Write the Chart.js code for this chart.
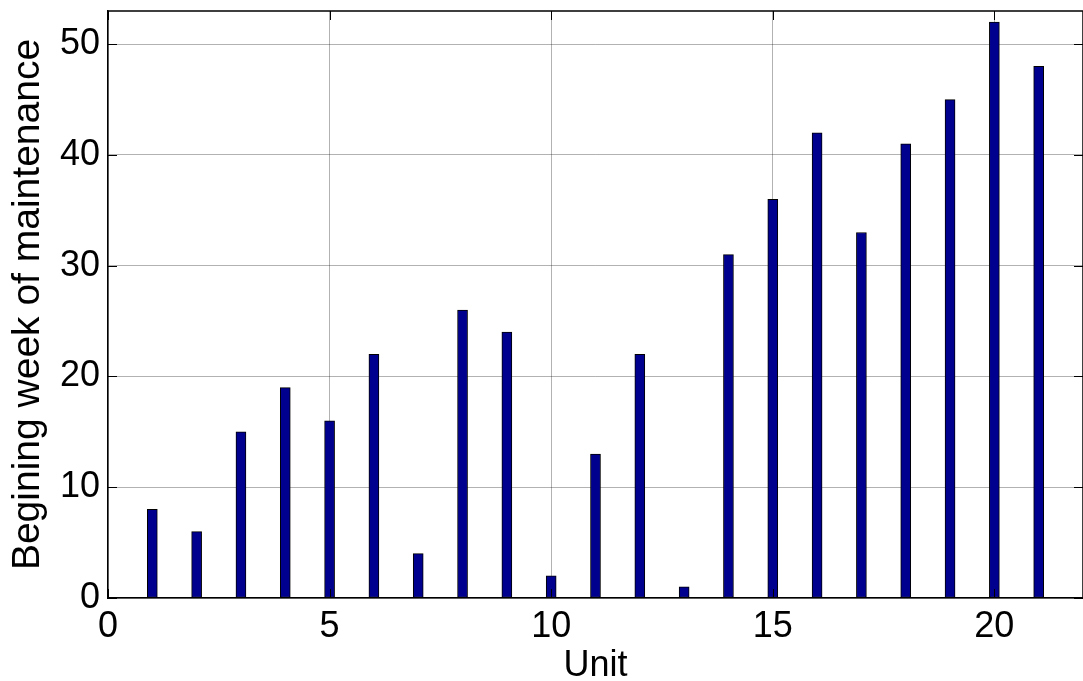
<!DOCTYPE html>
<html>
<head>
<meta charset="utf-8">
<script src="https://cdn.jsdelivr.net/npm/chart.js@4/dist/chart.umd.min.js"></script>
<style>
  html, body { margin: 0; padding: 0; background: #fff; }
  #wrap { width: 1083px; height: 681px; }
</style>
</head>
<body>
<div id="wrap"><canvas id="maintChart" width="1083" height="681"></canvas></div>
<script>
const units = [1, 2, 3, 4, 5, 6, 7, 8, 9, 10, 11, 12, 13, 14, 15, 16, 17, 18, 19, 20, 21];
const startWeek = [8, 6, 15, 19, 16, 22, 4, 26, 24, 2, 13, 22, 1, 31, 36, 42, 33, 41, 45, 52, 48];
const xTicks = [0, 5, 10, 15, 20];
const yTicks = [0, 10, 20, 30, 40, 50];

const FONT = "'Liberation Sans', Arial, sans-serif";

// box around the axes plus inward tick marks, like matlab
const frame = {
  id: "frame",
  afterDraw(chart) {
    const { ctx, chartArea: a, scales } = chart;
    const len = 9;
    ctx.save();
    ctx.strokeStyle = "#000";
    ctx.lineWidth = 1.5;
    ctx.beginPath();
    ctx.moveTo(a.left, a.top);
    ctx.lineTo(a.right, a.top);
    ctx.lineTo(a.right, a.bottom);
    ctx.stroke();
    ctx.lineWidth = 1;
    ctx.beginPath();
    xTicks.forEach((v) => {
      const px = Math.round(scales.x.getPixelForValue(v)) + 0.5;
      ctx.moveTo(px, a.bottom);
      ctx.lineTo(px, a.bottom - len);
      ctx.moveTo(px, a.top);
      ctx.lineTo(px, a.top + len);
    });
    yTicks.forEach((v) => {
      const py = Math.round(scales.y.getPixelForValue(v)) + 0.5;
      ctx.moveTo(a.left, py);
      ctx.lineTo(a.left + len, py);
      ctx.moveTo(a.right, py);
      ctx.lineTo(a.right - len, py);
    });
    ctx.stroke();
    ctx.restore();
  },
};

const ctx = document.getElementById("maintChart").getContext("2d");

new Chart(ctx, {
  type: "bar",
  data: {
    datasets: [
      {
        data: units.map((u, i) => ({ x: u, y: startWeek[i] })),
        backgroundColor: "rgb(0, 0, 143)",
        borderColor: "#000",
        borderWidth: 1,
        borderSkipped: false,
        barThickness: 10,
      },
    ],
  },
  options: {
    responsive: false,
    animation: false,
    layout: { padding: { top: 11, right: 0, bottom: 0, left: 0 } },
    plugins: { legend: { display: false }, tooltip: { enabled: false } },
    scales: {
      x: {
        type: "linear",
        min: 0,
        max: 22,
        offset: false,
        afterFit: (s) => {
          s.height = 83;
          s.paddingLeft = 0;
          s.paddingRight = 0;
        },
        afterBuildTicks: (s) => { s.ticks = xTicks.map((v) => ({ value: v })); },
        grid: { offset: false, color: "rgba(0,0,0,0.3)", lineWidth: 1, drawTicks: false },
        border: { color: "#000", width: 1.5 },
        ticks: {
          autoSkip: false,
          maxRotation: 0,
          padding: 7,
          color: "#000",
          font: { family: FONT, size: 36 },
        },
        title: {
          display: true,
          text: "Unit",
          color: "#000",
          padding: { top: 0, bottom: 0 },
          font: { family: FONT, size: 36, lineHeight: 0.85 },
        },
      },
      y: {
        min: 0,
        max: 53,
        afterFit: (s) => {
          s.width = 108;
          s.paddingTop = 0;
          s.paddingBottom = 0;
        },
        afterBuildTicks: (s) => { s.ticks = yTicks.map((v) => ({ value: v })); },
        grid: { color: "rgba(0,0,0,0.3)", lineWidth: 1, drawTicks: false },
        border: { color: "#000", width: 1.5 },
        ticks: {
          padding: 8,
          color: "#000",
          font: { family: FONT, size: 36 },
        },
        title: {
          display: true,
          text: "Begining week of maintenance",
          color: "#000",
          padding: { top: 5, bottom: 0 },
          font: { family: FONT, size: 39, lineHeight: 1.2 },
        },
      },
    },
  },
  plugins: [frame],
});
</script>
</body>
</html>
